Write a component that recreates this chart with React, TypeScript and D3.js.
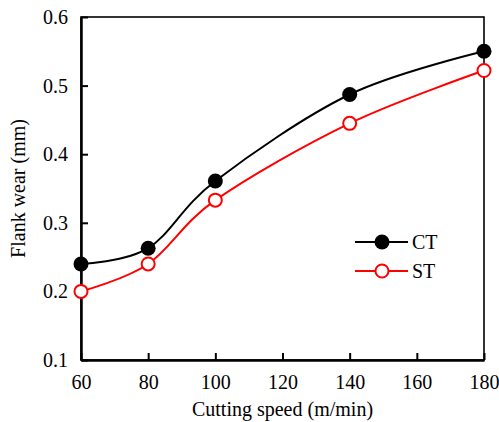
import React from 'react';
import * as d3 from 'd3';

const speeds = [60, 80, 100, 140, 180];
const ctWear = [0.24, 0.263, 0.361, 0.487, 0.55];
const stWear = [0.2, 0.24, 0.333, 0.445, 0.522];
const xTicks = [60, 80, 100, 120, 140, 160, 180];
const yTicks = [0.1, 0.2, 0.3, 0.4, 0.5, 0.6];

const W = 499;
const H = 422;
const margin = { top: 17, right: 15, bottom: 62, left: 81 };
const FONT = "'Liberation Serif'";

const App = () => {
  const svgRef = React.useRef(null);

  React.useEffect(() => {
    const svg = d3.select(svgRef.current);
    svg.selectAll('*').remove();

    const x = d3.scaleLinear().domain([60, 180]).range([margin.left, W - margin.right]);
    const y = d3.scaleLinear().domain([0.1, 0.6]).range([H - margin.bottom, margin.top]);

    // frame
    svg.append('rect')
      .attr('x', x(60)).attr('y', y(0.6))
      .attr('width', x(180) - x(60)).attr('height', y(0.1) - y(0.6))
      .attr('fill', 'none').attr('stroke', 'black').attr('stroke-width', 1.6);

    // x axis
    const gx = svg.append('g')
      .attr('transform', `translate(0,${y(0.1)})`)
      .call(d3.axisBottom(x).tickValues(xTicks).tickSizeInner(-7).tickSizeOuter(0).tickPadding(15));
    gx.attr('font-family', null).attr('font-size', null);
    gx.select('.domain').attr('stroke-width', 2.5);
    gx.selectAll('line').attr('stroke-width', 2);
    gx.selectAll('text').attr('fill', 'black').style('font-family', FONT).style('font-size', '20px');

    // y axis
    const gy = svg.append('g')
      .attr('transform', `translate(${x(60)},0)`)
      .call(d3.axisLeft(y).tickValues(yTicks).tickSizeInner(-7).tickSizeOuter(0).tickPadding(13).tickFormat(d3.format('.1f')));
    gy.attr('font-family', null).attr('font-size', null);
    gy.select('.domain').attr('stroke-width', 2.5);
    gy.selectAll('line').attr('stroke-width', 2);
    gy.selectAll('text').attr('fill', 'black').style('font-family', FONT).style('font-size', '20px');

    svg.append('text')
      .attr('x', (x(60) + x(180)) / 2).attr('y', 416)
      .attr('text-anchor', 'middle')
      .style('font-family', FONT).style('font-size', '20px')
      .text('Cutting speed (m/min)');

    svg.append('text')
      .attr('transform', `translate(25,${(y(0.1) + y(0.6)) / 2}) rotate(-90)`)
      .attr('text-anchor', 'middle')
      .style('font-family', FONT).style('font-size', '20px')
      .text('Flank wear (mm)');

    const line = d3.line<number>()
      .x((d, i) => x(speeds[i]))
      .y(d => y(d))
      .curve(d3.curveCardinal.tension(0));

    svg.append('path').attr('d', line(ctWear)).attr('fill', 'none').attr('stroke', 'black').attr('stroke-width', 2);
    svg.append('path').attr('d', line(stWear)).attr('fill', 'none').attr('stroke', '#ff0000').attr('stroke-width', 2);

    svg.selectAll('.ct').data(ctWear).join('circle')
      .attr('cx', (d, i) => x(speeds[i])).attr('cy', d => y(d))
      .attr('r', 7.5).attr('fill', 'black');

    svg.selectAll('.st').data(stWear).join('circle')
      .attr('cx', (d, i) => x(speeds[i])).attr('cy', d => y(d))
      .attr('r', 6.5).attr('fill', 'white').attr('stroke', '#ff0000').attr('stroke-width', 2);

    // legend
    const legend = [
      { name: 'CT', color: 'black', filled: true },
      { name: 'ST', color: '#ff0000', filled: false },
    ];
    legend.forEach((l, i) => {
      const ly = 242 + i * 29;
      svg.append('line').attr('x1', 355).attr('x2', 408).attr('y1', ly).attr('y2', ly)
        .attr('stroke', l.color).attr('stroke-width', 2);
      svg.append('circle').attr('cx', 382).attr('cy', ly)
        .attr('r', l.filled ? 7.5 : 6.5)
        .attr('fill', l.filled ? 'black' : 'white')
        .attr('stroke', l.filled ? 'none' : l.color).attr('stroke-width', 2);
      svg.append('text').attr('x', 412).attr('y', ly + 7)
        .style('font-family', FONT).style('font-size', '20px')
        .text(l.name);
    });
  }, []);

  return (
    <svg ref={svgRef} width={W} height={H}
      style={{ position: 'absolute', left: 0, top: 0, background: 'white' }} />
  );
};

export default App;
